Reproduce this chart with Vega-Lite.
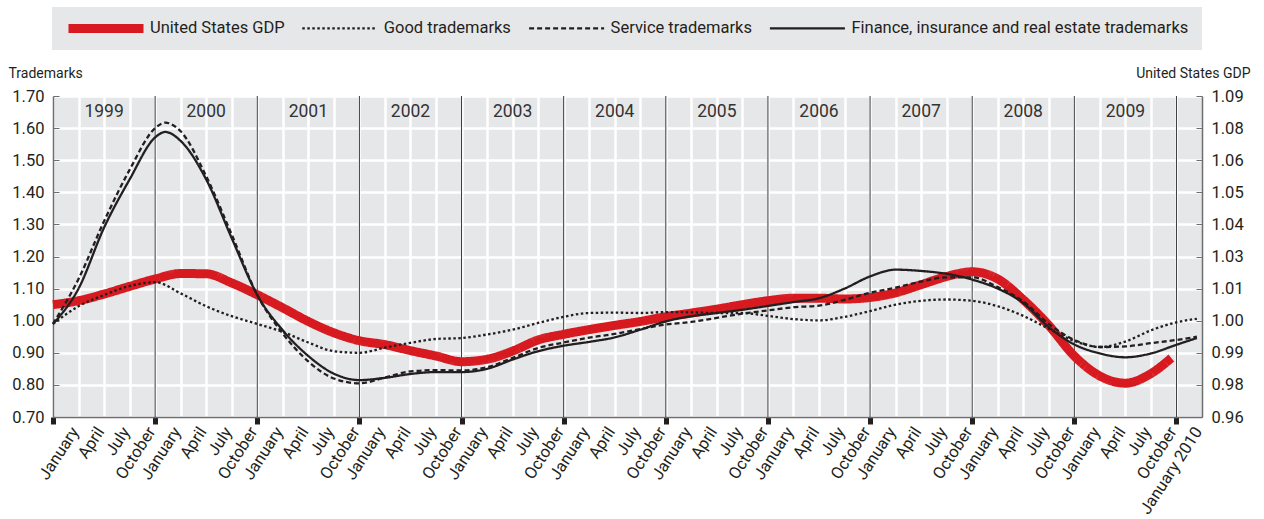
{
  "$schema": "https://vega.github.io/schema/vega-lite/v6.json",
  "width": 1149,
  "height": 321,
  "autosize": {"type": "none"},
  "padding": {"left": 53, "top": 96, "right": 62, "bottom": 102},
  "background": "#ffffff",
  "config": {
    "font": "Roboto",
    "view": {"fill": "#e6e7e9", "stroke": null},
    "axis": {"labelFont": "Roboto", "titleFont": "Roboto", "labelColor": "#231f20", "titleColor": "#231f20", "titleFontWeight": "normal"},
    "axisX": {"labelOverlap": false, "labelBound": false, "labelFlush": false},
    "text": {"font": "Roboto"}
  },
  "datasets": {
    "dividers": [{"t": 2000}, {"t": 2001}, {"t": 2002}, {"t": 2003}, {"t": 2004}, {"t": 2005}, {"t": 2006}, {"t": 2007}, {"t": 2008}, {"t": 2009}, {"t": 2010}],
    "years": [{"t": 1999.5, "year": "1999"}, {"t": 2000.5, "year": "2000"}, {"t": 2001.5, "year": "2001"}, {"t": 2002.5, "year": "2002"}, {"t": 2003.5, "year": "2003"}, {"t": 2004.5, "year": "2004"}, {"t": 2005.5, "year": "2005"}, {"t": 2006.5, "year": "2006"}, {"t": 2007.5, "year": "2007"}, {"t": 2008.5, "year": "2008"}, {"t": 2009.5, "year": "2009"}],
    "gdp": [
      {"t": 1999.00, "series": "United States GDP", "gdp": 1.0055},
      {"t": 1999.25, "series": "United States GDP", "gdp": 1.0071},
      {"t": 1999.50, "series": "United States GDP", "gdp": 1.0098},
      {"t": 1999.75, "series": "United States GDP", "gdp": 1.0129},
      {"t": 2000.00, "series": "United States GDP", "gdp": 1.0159},
      {"t": 2000.25, "series": "United States GDP", "gdp": 1.0181},
      {"t": 2000.50, "series": "United States GDP", "gdp": 1.0180},
      {"t": 2000.75, "series": "United States GDP", "gdp": 1.0143},
      {"t": 2001.00, "series": "United States GDP", "gdp": 1.0095},
      {"t": 2001.25, "series": "United States GDP", "gdp": 1.0042},
      {"t": 2001.50, "series": "United States GDP", "gdp": 0.9987},
      {"t": 2001.75, "series": "United States GDP", "gdp": 0.9941},
      {"t": 2002.00, "series": "United States GDP", "gdp": 0.9909},
      {"t": 2002.25, "series": "United States GDP", "gdp": 0.9893},
      {"t": 2002.50, "series": "United States GDP", "gdp": 0.9869},
      {"t": 2002.75, "series": "United States GDP", "gdp": 0.9847},
      {"t": 2003.00, "series": "United States GDP", "gdp": 0.9824},
      {"t": 2003.25, "series": "United States GDP", "gdp": 0.9834},
      {"t": 2003.50, "series": "United States GDP", "gdp": 0.9867},
      {"t": 2003.75, "series": "United States GDP", "gdp": 0.9912},
      {"t": 2004.00, "series": "United States GDP", "gdp": 0.9935},
      {"t": 2004.25, "series": "United States GDP", "gdp": 0.9954},
      {"t": 2004.50, "series": "United States GDP", "gdp": 0.9971},
      {"t": 2004.75, "series": "United States GDP", "gdp": 0.9987},
      {"t": 2005.00, "series": "United States GDP", "gdp": 1.0006},
      {"t": 2005.25, "series": "United States GDP", "gdp": 1.0021},
      {"t": 2005.50, "series": "United States GDP", "gdp": 1.0037},
      {"t": 2005.75, "series": "United States GDP", "gdp": 1.0055},
      {"t": 2006.00, "series": "United States GDP", "gdp": 1.0071},
      {"t": 2006.25, "series": "United States GDP", "gdp": 1.0081},
      {"t": 2006.50, "series": "United States GDP", "gdp": 1.0081},
      {"t": 2006.75, "series": "United States GDP", "gdp": 1.0078},
      {"t": 2007.00, "series": "United States GDP", "gdp": 1.0084},
      {"t": 2007.25, "series": "United States GDP", "gdp": 1.0103},
      {"t": 2007.50, "series": "United States GDP", "gdp": 1.0136},
      {"t": 2007.75, "series": "United States GDP", "gdp": 1.0169},
      {"t": 2008.00, "series": "United States GDP", "gdp": 1.0188},
      {"t": 2008.25, "series": "United States GDP", "gdp": 1.0159},
      {"t": 2008.50, "series": "United States GDP", "gdp": 1.0075},
      {"t": 2008.75, "series": "United States GDP", "gdp": 0.9971},
      {"t": 2009.00, "series": "United States GDP", "gdp": 0.9847},
      {"t": 2009.25, "series": "United States GDP", "gdp": 0.9766},
      {"t": 2009.50, "series": "United States GDP", "gdp": 0.9737},
      {"t": 2009.75, "series": "United States GDP", "gdp": 0.9776},
      {"t": 2009.95, "series": "United States GDP", "gdp": 0.9839}
    ],
    "tm": [
      {"t": 1999.00, "series": "Good trademarks", "value": 0.99},
      {"t": 1999.25, "series": "Good trademarks", "value": 1.045},
      {"t": 1999.50, "series": "Good trademarks", "value": 1.08},
      {"t": 1999.75, "series": "Good trademarks", "value": 1.108},
      {"t": 2000.00, "series": "Good trademarks", "value": 1.12},
      {"t": 2000.25, "series": "Good trademarks", "value": 1.085},
      {"t": 2000.50, "series": "Good trademarks", "value": 1.045},
      {"t": 2000.75, "series": "Good trademarks", "value": 1.014},
      {"t": 2001.00, "series": "Good trademarks", "value": 0.99},
      {"t": 2001.25, "series": "Good trademarks", "value": 0.965},
      {"t": 2001.50, "series": "Good trademarks", "value": 0.932},
      {"t": 2001.75, "series": "Good trademarks", "value": 0.905},
      {"t": 2002.00, "series": "Good trademarks", "value": 0.90},
      {"t": 2002.25, "series": "Good trademarks", "value": 0.916},
      {"t": 2002.50, "series": "Good trademarks", "value": 0.931},
      {"t": 2002.75, "series": "Good trademarks", "value": 0.943},
      {"t": 2003.00, "series": "Good trademarks", "value": 0.946},
      {"t": 2003.25, "series": "Good trademarks", "value": 0.957},
      {"t": 2003.50, "series": "Good trademarks", "value": 0.972},
      {"t": 2003.75, "series": "Good trademarks", "value": 0.993},
      {"t": 2004.00, "series": "Good trademarks", "value": 1.012},
      {"t": 2004.25, "series": "Good trademarks", "value": 1.024},
      {"t": 2004.50, "series": "Good trademarks", "value": 1.025},
      {"t": 2004.75, "series": "Good trademarks", "value": 1.024},
      {"t": 2005.00, "series": "Good trademarks", "value": 1.027},
      {"t": 2005.25, "series": "Good trademarks", "value": 1.026},
      {"t": 2005.50, "series": "Good trademarks", "value": 1.024},
      {"t": 2005.75, "series": "Good trademarks", "value": 1.024},
      {"t": 2006.00, "series": "Good trademarks", "value": 1.015},
      {"t": 2006.25, "series": "Good trademarks", "value": 1.005},
      {"t": 2006.50, "series": "Good trademarks", "value": 1.001},
      {"t": 2006.75, "series": "Good trademarks", "value": 1.012},
      {"t": 2007.00, "series": "Good trademarks", "value": 1.03},
      {"t": 2007.25, "series": "Good trademarks", "value": 1.05},
      {"t": 2007.50, "series": "Good trademarks", "value": 1.062},
      {"t": 2007.75, "series": "Good trademarks", "value": 1.066},
      {"t": 2008.00, "series": "Good trademarks", "value": 1.062},
      {"t": 2008.25, "series": "Good trademarks", "value": 1.045},
      {"t": 2008.50, "series": "Good trademarks", "value": 1.015},
      {"t": 2008.75, "series": "Good trademarks", "value": 0.975},
      {"t": 2009.00, "series": "Good trademarks", "value": 0.937},
      {"t": 2009.25, "series": "Good trademarks", "value": 0.918},
      {"t": 2009.50, "series": "Good trademarks", "value": 0.935},
      {"t": 2009.75, "series": "Good trademarks", "value": 0.97},
      {"t": 2010.00, "series": "Good trademarks", "value": 0.995},
      {"t": 2010.20, "series": "Good trademarks", "value": 1.006},
      {"t": 1999.00, "series": "Service trademarks", "value": 0.99},
      {"t": 1999.25, "series": "Service trademarks", "value": 1.13},
      {"t": 1999.50, "series": "Service trademarks", "value": 1.31},
      {"t": 1999.75, "series": "Service trademarks", "value": 1.47},
      {"t": 2000.00, "series": "Service trademarks", "value": 1.60},
      {"t": 2000.10, "series": "Service trademarks", "value": 1.617},
      {"t": 2000.25, "series": "Service trademarks", "value": 1.59},
      {"t": 2000.50, "series": "Service trademarks", "value": 1.45},
      {"t": 2000.75, "series": "Service trademarks", "value": 1.268},
      {"t": 2001.00, "series": "Service trademarks", "value": 1.08},
      {"t": 2001.25, "series": "Service trademarks", "value": 0.96},
      {"t": 2001.50, "series": "Service trademarks", "value": 0.873},
      {"t": 2001.75, "series": "Service trademarks", "value": 0.82},
      {"t": 2002.00, "series": "Service trademarks", "value": 0.805},
      {"t": 2002.25, "series": "Service trademarks", "value": 0.823},
      {"t": 2002.50, "series": "Service trademarks", "value": 0.842},
      {"t": 2002.75, "series": "Service trademarks", "value": 0.846},
      {"t": 2003.00, "series": "Service trademarks", "value": 0.845},
      {"t": 2003.25, "series": "Service trademarks", "value": 0.855},
      {"t": 2003.50, "series": "Service trademarks", "value": 0.884},
      {"t": 2003.75, "series": "Service trademarks", "value": 0.915},
      {"t": 2004.00, "series": "Service trademarks", "value": 0.932},
      {"t": 2004.25, "series": "Service trademarks", "value": 0.947},
      {"t": 2004.50, "series": "Service trademarks", "value": 0.959},
      {"t": 2004.75, "series": "Service trademarks", "value": 0.974},
      {"t": 2005.00, "series": "Service trademarks", "value": 0.988},
      {"t": 2005.25, "series": "Service trademarks", "value": 0.996},
      {"t": 2005.50, "series": "Service trademarks", "value": 1.009},
      {"t": 2005.75, "series": "Service trademarks", "value": 1.022},
      {"t": 2006.00, "series": "Service trademarks", "value": 1.032},
      {"t": 2006.25, "series": "Service trademarks", "value": 1.042},
      {"t": 2006.50, "series": "Service trademarks", "value": 1.047},
      {"t": 2006.75, "series": "Service trademarks", "value": 1.065},
      {"t": 2007.00, "series": "Service trademarks", "value": 1.087},
      {"t": 2007.25, "series": "Service trademarks", "value": 1.103},
      {"t": 2007.50, "series": "Service trademarks", "value": 1.122},
      {"t": 2007.75, "series": "Service trademarks", "value": 1.135},
      {"t": 2008.00, "series": "Service trademarks", "value": 1.135},
      {"t": 2008.25, "series": "Service trademarks", "value": 1.105},
      {"t": 2008.50, "series": "Service trademarks", "value": 1.06},
      {"t": 2008.75, "series": "Service trademarks", "value": 0.99},
      {"t": 2009.00, "series": "Service trademarks", "value": 0.94},
      {"t": 2009.25, "series": "Service trademarks", "value": 0.918},
      {"t": 2009.50, "series": "Service trademarks", "value": 0.92},
      {"t": 2009.75, "series": "Service trademarks", "value": 0.93},
      {"t": 2010.00, "series": "Service trademarks", "value": 0.94},
      {"t": 2010.20, "series": "Service trademarks", "value": 0.95},
      {"t": 1999.00, "series": "Finance, insurance and real estate trademarks", "value": 0.99},
      {"t": 1999.25, "series": "Finance, insurance and real estate trademarks", "value": 1.10},
      {"t": 1999.50, "series": "Finance, insurance and real estate trademarks", "value": 1.29},
      {"t": 1999.75, "series": "Finance, insurance and real estate trademarks", "value": 1.44},
      {"t": 2000.00, "series": "Finance, insurance and real estate trademarks", "value": 1.571},
      {"t": 2000.10, "series": "Finance, insurance and real estate trademarks", "value": 1.588},
      {"t": 2000.25, "series": "Finance, insurance and real estate trademarks", "value": 1.56},
      {"t": 2000.50, "series": "Finance, insurance and real estate trademarks", "value": 1.44},
      {"t": 2000.75, "series": "Finance, insurance and real estate trademarks", "value": 1.257},
      {"t": 2001.00, "series": "Finance, insurance and real estate trademarks", "value": 1.08},
      {"t": 2001.25, "series": "Finance, insurance and real estate trademarks", "value": 0.97},
      {"t": 2001.50, "series": "Finance, insurance and real estate trademarks", "value": 0.89},
      {"t": 2001.75, "series": "Finance, insurance and real estate trademarks", "value": 0.835},
      {"t": 2002.00, "series": "Finance, insurance and real estate trademarks", "value": 0.815},
      {"t": 2002.25, "series": "Finance, insurance and real estate trademarks", "value": 0.822},
      {"t": 2002.50, "series": "Finance, insurance and real estate trademarks", "value": 0.834},
      {"t": 2002.75, "series": "Finance, insurance and real estate trademarks", "value": 0.84},
      {"t": 2003.00, "series": "Finance, insurance and real estate trademarks", "value": 0.84},
      {"t": 2003.25, "series": "Finance, insurance and real estate trademarks", "value": 0.85},
      {"t": 2003.50, "series": "Finance, insurance and real estate trademarks", "value": 0.879},
      {"t": 2003.75, "series": "Finance, insurance and real estate trademarks", "value": 0.905},
      {"t": 2004.00, "series": "Finance, insurance and real estate trademarks", "value": 0.922},
      {"t": 2004.25, "series": "Finance, insurance and real estate trademarks", "value": 0.934},
      {"t": 2004.50, "series": "Finance, insurance and real estate trademarks", "value": 0.948},
      {"t": 2004.75, "series": "Finance, insurance and real estate trademarks", "value": 0.972},
      {"t": 2005.00, "series": "Finance, insurance and real estate trademarks", "value": 0.998},
      {"t": 2005.25, "series": "Finance, insurance and real estate trademarks", "value": 1.014},
      {"t": 2005.50, "series": "Finance, insurance and real estate trademarks", "value": 1.024},
      {"t": 2005.75, "series": "Finance, insurance and real estate trademarks", "value": 1.034},
      {"t": 2006.00, "series": "Finance, insurance and real estate trademarks", "value": 1.046},
      {"t": 2006.25, "series": "Finance, insurance and real estate trademarks", "value": 1.058},
      {"t": 2006.50, "series": "Finance, insurance and real estate trademarks", "value": 1.07},
      {"t": 2006.75, "series": "Finance, insurance and real estate trademarks", "value": 1.10},
      {"t": 2007.00, "series": "Finance, insurance and real estate trademarks", "value": 1.138},
      {"t": 2007.25, "series": "Finance, insurance and real estate trademarks", "value": 1.159},
      {"t": 2007.50, "series": "Finance, insurance and real estate trademarks", "value": 1.155},
      {"t": 2007.75, "series": "Finance, insurance and real estate trademarks", "value": 1.146},
      {"t": 2008.00, "series": "Finance, insurance and real estate trademarks", "value": 1.128},
      {"t": 2008.25, "series": "Finance, insurance and real estate trademarks", "value": 1.10},
      {"t": 2008.50, "series": "Finance, insurance and real estate trademarks", "value": 1.055},
      {"t": 2008.75, "series": "Finance, insurance and real estate trademarks", "value": 0.98},
      {"t": 2009.00, "series": "Finance, insurance and real estate trademarks", "value": 0.926},
      {"t": 2009.25, "series": "Finance, insurance and real estate trademarks", "value": 0.898},
      {"t": 2009.50, "series": "Finance, insurance and real estate trademarks", "value": 0.886},
      {"t": 2009.75, "series": "Finance, insurance and real estate trademarks", "value": 0.898},
      {"t": 2010.00, "series": "Finance, insurance and real estate trademarks", "value": 0.925},
      {"t": 2010.20, "series": "Finance, insurance and real estate trademarks", "value": 0.946}
    ]
  },
  "encoding": {
    "x": {
      "field": "t", "type": "quantitative", "title": null,
      "scale": {"domain": [1999, 2010.25], "nice": false, "zero": false},
      "axis": {
        "values": [1999, 1999.25, 1999.5, 1999.75, 2000, 2000.25, 2000.5, 2000.75, 2001, 2001.25, 2001.5, 2001.75, 2002, 2002.25, 2002.5, 2002.75, 2003, 2003.25, 2003.5, 2003.75, 2004, 2004.25, 2004.5, 2004.75, 2005, 2005.25, 2005.5, 2005.75, 2006, 2006.25, 2006.5, 2006.75, 2007, 2007.25, 2007.5, 2007.75, 2008, 2008.25, 2008.5, 2008.75, 2009, 2009.25, 2009.5, 2009.75, 2010],
        "labelExpr": "datum.value == 2010 ? 'January 2010' : ['January', 'April', 'July', 'October'][round((datum.value - floor(datum.value)) * 4)]",
        "labelAngle": -57,
        "labelAlign": "right",
        "labelBaseline": "top",
        "labelOffset": 15,
        "labelPadding": 0,
        "labelFontSize": 16.5,
        "labelOverlap": false,
        "labelSeparation": 0,
        "labelBound": false,
        "labelFlush": false,
        "domainColor": "#6d6e70",
        "domainWidth": 1.5,
        "tickColor": "#231f20",
        "tickSize": 7,
        "tickWidth": {"condition": {"test": "datum.value % 1 == 0", "value": 5}, "value": 0},
        "grid": true,
        "gridColor": "#ffffff",
        "gridWidth": 2.5
      }
    }
  },
  "layer": [
    {
      "data": {"name": "dividers"},
      "mark": {"type": "rule", "color": "#3a3a3a", "strokeWidth": 1}
    },
    {
      "data": {"name": "years"},
      "mark": {"type": "text", "fontSize": 17.5, "color": "#333333", "baseline": "middle", "align": "center"},
      "encoding": {
        "y": {"datum": 1.65, "type": "quantitative", "scale": {"domain": [0.7, 1.7], "nice": false, "zero": false}, "axis": null},
        "text": {"field": "year"}
      }
    },
    {
      "data": {"name": "gdp"},
      "mark": {"type": "line", "interpolate": "monotone", "strokeCap": "butt", "strokeWidth": 9},
      "encoding": {
        "y": {
          "field": "gdp", "type": "quantitative",
          "scale": {"domain": [0.96, 1.09], "nice": false, "zero": false},
          "axis": {
            "orient": "right",
            "values": [0.96, 0.973, 0.986, 0.999, 1.012, 1.025, 1.038, 1.051, 1.064, 1.077, 1.09],
            "labelExpr": "['0.96', '0.98', '0.99', '1.00', '1.01', '1.03', '1.04', '1.05', '1.06', '1.08', '1.09'][round((datum.value - 0.96) / 0.013)]",
            "grid": false,
            "domainColor": "#6d6e70",
            "domainWidth": 1.5,
            "tickColor": "#6d6e70",
            "tickSize": -6,
            "labelPadding": 15,
            "labelFontSize": 16.5,
            "title": "United States GDP",
            "titleAngle": 0,
            "titleX": 48,
            "titleY": -23,
            "titleAlign": "right",
            "titleBaseline": "middle",
            "titleFontSize": 14
          }
        },
        "color": {
          "field": "series", "type": "nominal",
          "scale": {"domain": ["United States GDP", "Good trademarks", "Service trademarks", "Finance, insurance and real estate trademarks"], "range": ["#d71920", "#231f20", "#231f20", "#231f20"]},
          "legend": {"orient": "none", "legendX": -1, "legendY": -89, "direction": "horizontal", "title": null, "fillColor": "#e6e7e9", "padding": 13, "symbolType": "M-10.7143,0H10.7143", "symbolSize": 49, "symbolStrokeWidth": 2.3, "symbolOffset": 32.75, "labelFont": "Roboto", "labelFontSize": 16.5, "labelColor": "#231f20", "labelOffset": 35.75, "columnPadding": 11.8, "labelLimit": 0,
            "encode": {"symbols": {"update": {
              "strokeWidth": {"value": 2.3},
              "shape": {"signal": "datum.value === 'United States GDP' ? 'M-10.386,-0.957H10.386V0.957H-10.386Z' : 'M-10.7143,0H10.7143'"},
              "fill": {"signal": "datum.value === 'United States GDP' ? '#d71920' : 'transparent'"}
            }}}}
        },
        "strokeDash": {
          "field": "series", "type": "nominal",
          "scale": {"domain": ["United States GDP", "Good trademarks", "Service trademarks", "Finance, insurance and real estate trademarks"], "range": [[1, 0], [2.5, 2.5], [5, 3], [1, 0]]},
          "legend": {"orient": "none", "legendX": -1, "legendY": -89, "direction": "horizontal", "title": null, "fillColor": "#e6e7e9", "padding": 13, "symbolType": "M-10.7143,0H10.7143", "symbolSize": 49, "symbolStrokeWidth": 2.3, "symbolOffset": 32.75, "labelFont": "Roboto", "labelFontSize": 16.5, "labelColor": "#231f20", "labelOffset": 35.75, "columnPadding": 11.8, "labelLimit": 0,
            "encode": {"symbols": {"update": {
              "strokeWidth": {"value": 2.3},
              "shape": {"signal": "datum.value === 'United States GDP' ? 'M-10.386,-0.957H10.386V0.957H-10.386Z' : 'M-10.7143,0H10.7143'"},
              "fill": {"signal": "datum.value === 'United States GDP' ? '#d71920' : 'transparent'"}
            }}}}
        }
      }
    },
    {
      "data": {"name": "tm"},
      "mark": {"type": "line", "interpolate": "monotone", "strokeCap": "butt", "strokeWidth": 2.3},
      "encoding": {
        "y": {
          "field": "value", "type": "quantitative",
          "scale": {"domain": [0.7, 1.7], "nice": false, "zero": false},
          "axis": {
            "orient": "left",
            "values": [0.7, 0.8, 0.9, 1.0, 1.1, 1.2, 1.3, 1.4, 1.5, 1.6, 1.7],
            "format": ".2f",
            "grid": true,
            "gridColor": "#ffffff",
            "gridWidth": 2.5,
            "domainColor": "#6d6e70",
            "domainWidth": 1.5,
            "tickColor": "#6d6e70",
            "tickSize": -6,
            "labelPadding": 15,
            "labelFontSize": 16.5,
            "title": "Trademarks",
            "titleAngle": 0,
            "titleX": -45,
            "titleY": -23,
            "titleAlign": "left",
            "titleBaseline": "middle",
            "titleFontSize": 14
          }
        },
        "color": {
          "field": "series", "type": "nominal",
          "scale": {"domain": ["United States GDP", "Good trademarks", "Service trademarks", "Finance, insurance and real estate trademarks"], "range": ["#d71920", "#231f20", "#231f20", "#231f20"]}
        },
        "strokeDash": {
          "field": "series", "type": "nominal",
          "scale": {"domain": ["United States GDP", "Good trademarks", "Service trademarks", "Finance, insurance and real estate trademarks"], "range": [[1, 0], [2.5, 2.5], [5, 3], [1, 0]]}
        }
      }
    }
  ],
  "resolve": {"scale": {"y": "independent"}}
}
